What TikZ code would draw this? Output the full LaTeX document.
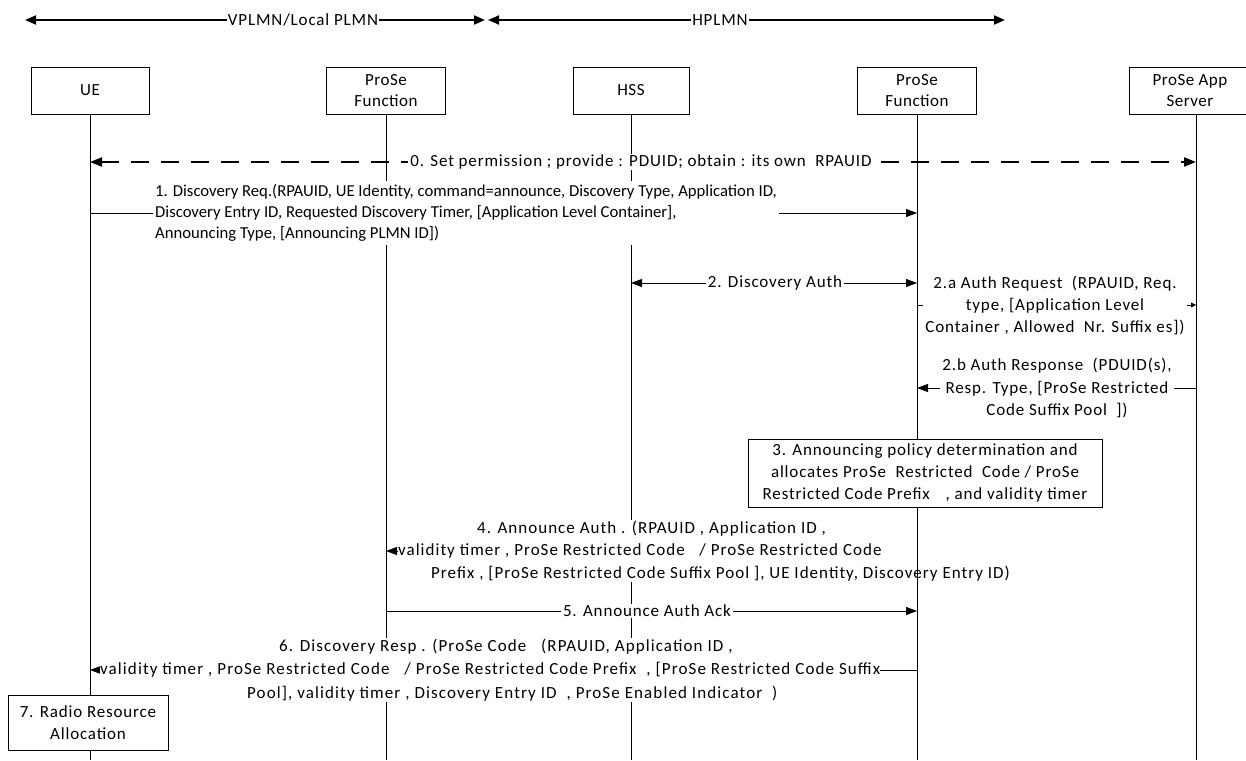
\documentclass[tikz,border=0pt]{standalone}
\usepackage{fontspec}
\setmainfont{Carlito}
\usetikzlibrary{arrows.meta}
\newcommand\dfont{\fontsize{16.7}{21}\selectfont}
\newcommand\wfont{\fontsize{17}{22.5}\selectfont\addfontfeature{LetterSpace=5}}
\begin{document}
\begin{tikzpicture}[x=1pt,y=-1pt,
  every node/.style={font=\wfont},
  actor/.style={draw, fill=white, line width=0.9pt, minimum width=119pt, minimum height=47pt, align=center, inner sep=1pt, font=\fontsize{17}{21}\selectfont\addfontfeature{LetterSpace=3}},
  life/.style={line width=0.8pt},
  msg/.style={line width=0.8pt, -{Triangle[length=11pt,width=8pt]}},
  dmsg/.style={line width=0.8pt, {Triangle[length=11pt,width=8pt]}-{Triangle[length=11pt,width=8pt]}},
  hdr/.style={line width=2pt, {Triangle[length=11pt,width=9pt]}-{Triangle[length=11pt,width=9pt]}},
  lbl/.style={fill=white, inner xsep=2pt, inner ysep=1pt},
  box/.style={draw, fill=white, line width=0.9pt, align=center, inner sep=2pt}]
\useasboundingbox (0,0) rectangle (1246,760);

% header
\coordinate (vl) at (25,20);
\coordinate (vr) at (485,20);
\coordinate (hl) at (488,20);
\coordinate (hr) at (1005,20);
\draw[hdr] (vl) -- (vr);
\draw[hdr] (hl) -- (hr);
\node[lbl, inner xsep=1pt] (hv) at (303,20) {VPLMN/Local PLMN};
\node[lbl, inner xsep=1pt] (hh) at (720,20) {HPLMN};

% actors
\node[actor, minimum width=118pt] (ue) at (90,90.5) {UE};
\node[actor] (vp) at (386,90.5) {ProSe\\Function};
\node[actor, minimum width=116pt] (hss) at (631,90.5) {HSS};
\node[actor] (hp) at (917,90.5) {ProSe\\Function};
\node[actor, anchor=west, minimum width=121pt] (app) at (1129,90.5) {ProSe App\\Server};
\coordinate (appx) at (1196,114);
\coordinate (bot) at (0,760);

% lifelines
\draw[life] (ue.south) -- (ue.south |- bot);
\draw[life] (vp.south) -- (vp.south |- bot);
\draw[life] (hss.south) -- (hss.south |- bot);
\draw[life] (hp.south) -- (hp.south |- bot);
\draw[life] (appx) -- (appx |- bot);

% message rows
\coordinate (m0) at (0,162);
\coordinate (m1) at (0,213);
\coordinate (m2) at (0,283);
\coordinate (m2a) at (0,305);
\coordinate (m2b) at (0,388);
\coordinate (m4) at (0,551);
\coordinate (m5) at (0,611);
\coordinate (m6) at (0,670);

% 0
\draw[line width=2.2pt, dash pattern=on 18pt off 12pt, {Triangle[length=12pt,width=9pt]}-{Triangle[length=12pt,width=9pt]}] (ue |- m0) -- (appx |- m0);
\node[lbl] (t0) at (641,162) {0. Set permission ; provide : PDUID; obtain : its own\ \ RPAUID};

% 1
\draw[msg] (ue |- m1) -- (hp |- m1);
\node[lbl, align=left, anchor=west, font=\dfont, inner ysep=3pt] (t1) at (153,213) {1. Discovery Req.(RPAUID, UE Identity, command=announce, Discovery Type, Application ID,\\Discovery Entry ID, Requested Discovery Timer, [Application Level Container],\\Announcing Type, [Announcing PLMN ID])};

% 2
\draw[dmsg] (hss |- m2) -- (hp |- m2);
\node[lbl] (t2) at (775,283) {2. Discovery Auth};

% 2a
\draw[line width=0.8pt, -{Triangle[length=5pt,width=5pt]}] (hp |- m2a) -- (appx |- m2a);
\node[lbl, align=center, font=\fontsize{17}{22}\selectfont\addfontfeature{LetterSpace=5}] (t2a) at (1055,305) {2.a Auth Request\ \ (RPAUID, Req.\\type, [Application Level\\Container , Allowed\ \ Nr. Suffix es])};

% 2b
\draw[msg] (appx |- m2b) -- (hp |- m2b);
\node[lbl, align=center] (t2b) at (1057,388) {2.b Auth Response\ \ (PDUID(s),\\Resp. Type, [ProSe Restricted\\Code Suffix Pool\ \ ])};

% 3
\node[box, minimum width=354pt, minimum height=68pt, font=\fontsize{17}{22}\selectfont\addfontfeature{LetterSpace=5}] (b3) at (925,473) {3. Announcing policy determination and\\allocates ProSe\ \ Restricted\ \ Code / ProSe\\Restricted Code Prefix\hspace{16pt}, and validity timer};

% 4
\draw[msg] (hp |- m4) -- (vp |- m4);
\node[lbl, align=left, anchor=west, inner xsep=0pt, font=\fontsize{17}{22.5}\selectfont\addfontfeature{LetterSpace=6}] (t4) at (398,551) {\hspace*{79pt}4. Announce Auth . (RPAUID , Application ID ,\\validity timer , ProSe Restricted Code\ \ \ / ProSe Restricted Code\\\hspace*{33pt}Prefix , [ProSe Restricted Code Suffix Pool ], UE Identity, Discovery Entry ID)};
\draw[life] (b3.south -| hp) -- (hp |- m5);

% 5
\draw[msg] (vp |- m5) -- (hp |- m5);
\node[lbl] (t5) at (647,611) {5. Announce Auth Ack};

% 6
\draw[msg] (hp |- m6) -- (ue |- m6);
\node[lbl, align=left, anchor=west, inner xsep=0pt, font=\fontsize{17}{23.5}\selectfont\addfontfeature{LetterSpace=6.5}] (t6) at (100,670) {\hspace*{179pt}6. Discovery Resp . (ProSe Code\ \ \ (RPAUID, Application ID ,\\validity timer , ProSe Restricted Code\ \ \ / ProSe Restricted Code Prefix\ \ , [ProSe Restricted Code Suffix\\\hspace*{147pt}Pool], validity timer , Discovery Entry ID\ \ , ProSe Enabled Indicator\ \ )};

% 7
\node[box, minimum width=160pt, minimum height=55pt] (b7) at (88,722.5) {7. Radio Resource\\Allocation};
\end{tikzpicture}
\end{document}
